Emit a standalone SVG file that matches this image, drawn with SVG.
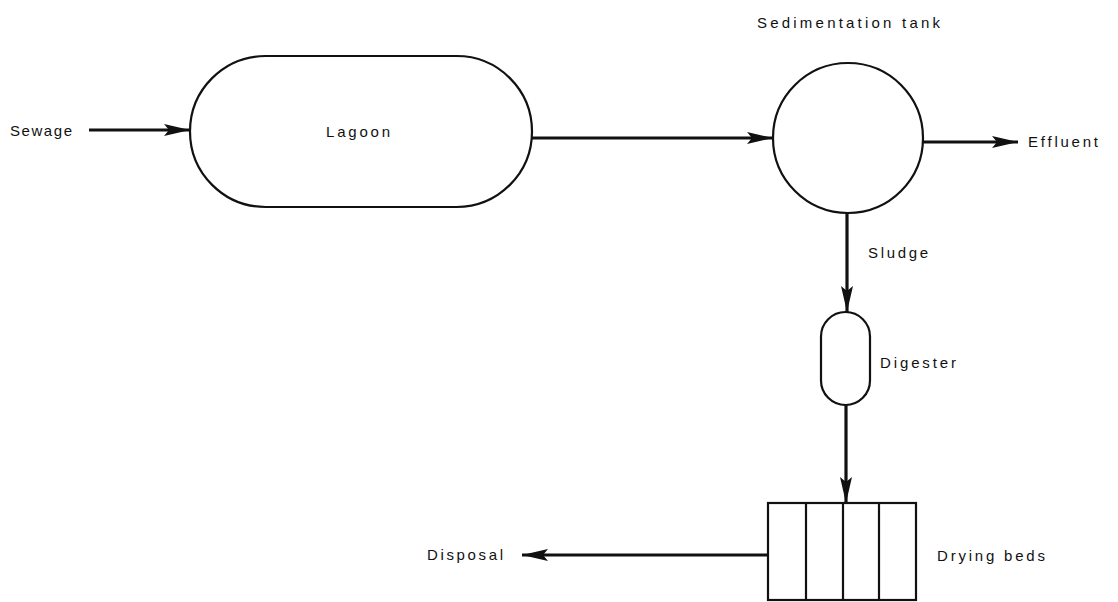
<svg xmlns="http://www.w3.org/2000/svg" width="1118" height="602" viewBox="0 0 1118 602">
<style>
.shape{fill:#fff;stroke:#111;stroke-width:2.2}
.line{stroke:#111;stroke-width:3.2;fill:none}
.lbl{font-family:"Liberation Sans",Arial,sans-serif;font-size:15px;fill:#111}
</style>
<defs>
<marker id="ah" viewBox="0 0 26 12" refX="26" refY="6" markerWidth="26" markerHeight="12" markerUnits="userSpaceOnUse" orient="auto">
<path d="M0,0 L26,6 L0,12 L5,6 Z" fill="#111"/>
</marker>
</defs>
<rect width="1118" height="602" fill="#fff"/>
<g id="connectors">
<line class="line" x1="89" y1="130" x2="190" y2="130" marker-end="url(#ah)"/>
<line class="line" x1="531" y1="138" x2="773" y2="138" marker-end="url(#ah)"/>
<line class="line" x1="923" y1="142" x2="1018" y2="142" marker-end="url(#ah)"/>
<line class="line" x1="847" y1="213" x2="847" y2="312" marker-end="url(#ah)"/>
<line class="line" x1="846" y1="405" x2="846" y2="503" marker-end="url(#ah)"/>
<line class="line" x1="768" y1="555" x2="522" y2="555" marker-end="url(#ah)"/>
</g>
<g id="sewage"><text class="lbl" x="10" y="136" textLength="62" lengthAdjust="spacing">Sewage</text></g>
<g id="lagoon">
<rect class="shape" x="190" y="56" width="342" height="151" rx="75.5" ry="75.5"/>
<text class="lbl" x="326" y="137" textLength="64" lengthAdjust="spacing">Lagoon</text>
</g>
<g id="sedimentation-tank">
<circle class="shape" cx="848" cy="138" r="75"/>
<text class="lbl" x="757" y="28" textLength="183" lengthAdjust="spacing">Sedimentation tank</text>
</g>
<g id="effluent"><text class="lbl" x="1028" y="147" textLength="70" lengthAdjust="spacing">Effluent</text></g>
<g id="sludge"><text class="lbl" x="868" y="258" textLength="60" lengthAdjust="spacing">Sludge</text></g>
<g id="digester">
<rect class="shape" x="821" y="312" width="49" height="93" rx="24.5" ry="24.5"/>
<text class="lbl" x="880" y="368" textLength="76" lengthAdjust="spacing">Digester</text>
</g>
<g id="drying-beds">
<rect class="shape" x="768" y="503" width="148" height="97"/>
<line class="shape" x1="806" y1="503" x2="806" y2="600"/>
<line class="shape" x1="843" y1="503" x2="843" y2="600"/>
<line class="shape" x1="879" y1="503" x2="879" y2="600"/>
<text class="lbl" x="937" y="561" textLength="108" lengthAdjust="spacing">Drying beds</text>
</g>
<g id="disposal"><text class="lbl" x="427" y="560" textLength="76" lengthAdjust="spacing">Disposal</text></g>
</svg>
